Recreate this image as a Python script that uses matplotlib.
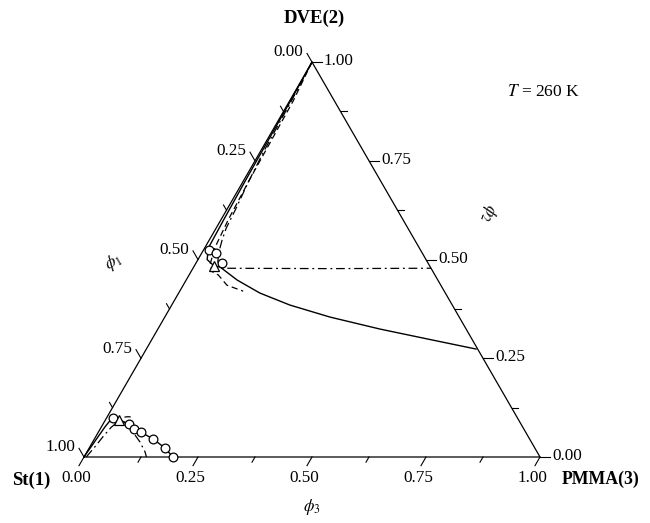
import numpy as np
import matplotlib
matplotlib.use("Agg")
import matplotlib.pyplot as plt

plt.rcParams['font.family'] = ['Liberation Serif', 'DejaVu Serif']
plt.rcParams['mathtext.fontset'] = 'stix'

# compositions: phi2 = DVE(2), phi3 = PMMA(3), phi1 = 1 - phi2 - phi3
top_solid_phi2 = [1.0, 0.9, 0.8, 0.7, 0.6, 0.53, 0.5, 0.484, 0.481, 0.448, 0.4152, 0.3848, 0.3544, 0.324, 0.2975, 0.2734]
top_solid_phi3 = [0.0, 0.002, 0.003, 0.004, 0.006, 0.008, 0.02, 0.043, 0.058, 0.112, 0.178, 0.259, 0.362, 0.487, 0.610, 0.723]

top_dashdot_phi2 = [1.0, 0.9, 0.78, 0.7, 0.625, 0.58, 0.55, 0.52, 0.495, 0.478, 0.477, 0.478]
top_dashdot_phi3 = [0.0, 0.004, 0.007, 0.012, 0.019, 0.022, 0.028, 0.036, 0.046, 0.06, 0.3, 0.522]

top_dashed_phi2 = [1.0, 0.9, 0.8, 0.7, 0.6, 0.53, 0.49, 0.47, 0.461, 0.435, 0.42]
top_dashed_phi3 = [0.0, 0.008, 0.01, 0.012, 0.016, 0.022, 0.032, 0.045, 0.064, 0.096, 0.139]

bot_solid_phi2 = [0.0, 0.04, 0.077, 0.092, 0.099, 0.099, 0.094, 0.0835, 0.071, 0.063, 0.0456, 0.0228, 0.0]
bot_solid_phi3 = [0.0, 0.004, 0.008, 0.011, 0.014, 0.022, 0.030, 0.057, 0.074, 0.093, 0.129, 0.166, 0.195]

bot_dashdot_phi2 = [0.0, 0.03, 0.052, 0.075, 0.094, 0.08, 0.0557, 0.0387, 0.0134, 0.0]
bot_dashdot_phi3 = [0.005, 0.012, 0.016, 0.022, 0.032, 0.06, 0.084, 0.103, 0.127, 0.137]

bot_dashed_phi2 = [0.095, 0.1, 0.102, 0.101]
bot_dashed_phi3 = [0.02, 0.032, 0.045, 0.06]

exp_phi2 = [0.524, 0.516, 0.490, 0.099, 0.0835, 0.071, 0.063, 0.0456, 0.0228, 0.0]
exp_phi3 = [0.012, 0.031, 0.057, 0.014, 0.057, 0.074, 0.093, 0.129, 0.166, 0.195]

crit_phi2 = [0.484, 0.094]
crit_phi3 = [0.043, 0.030]

major = [0.0, 0.25, 0.5, 0.75, 1.0]
major_labels = ['0.00', '0.25', '0.50', '0.75', '1.00']
minor = [0.125, 0.375, 0.625, 0.875]


def to_xy(phi2, phi3):
    phi2 = np.asarray(phi2, dtype=float)
    phi3 = np.asarray(phi3, dtype=float)
    return phi3 + 0.5 * phi2, phi2 * np.sqrt(3) / 2


def main():
    fig = plt.figure(figsize=(6.5, 5.23), dpi=100)
    ax = fig.add_axes([0, 0, 1, 1])
    px = 1 / 456.0
    ax.set_xlim(-84 * px, 566 * px)
    ax.set_ylim(-66 * px, 457 * px)
    ax.set_aspect('equal')
    ax.axis('off')

    # frame
    fx, fy = to_xy([0, 1, 0, 0], [0, 0, 1, 0])
    ax.plot(fx, fy, color='black', lw=0.9)

    s3 = np.sqrt(3) / 2
    axes_def = [
        # name, point function, tick direction
        ('bottom', lambda v: to_xy(0, v), (-0.5, -s3)),
        ('left', lambda v: to_xy(1 - v, 0), (-0.5, s3)),
        ('right', lambda v: to_xy(v, 1 - v), (1.0, 0.0)),
    ]
    for name, pt, d in axes_def:
        for v in minor:
            x0, y0 = pt(v)
            ax.plot([x0, x0 + 6 * px * d[0]], [y0, y0 + 6 * px * d[1]], color='black', lw=0.8)
        for v, lab in zip(major, major_labels):
            x0, y0 = pt(v)
            x1, y1 = x0 + 10 * px * d[0], y0 + 10 * px * d[1]
            ax.plot([x0, x1], [y0, y1], color='black', lw=0.8)
            if name == 'bottom':
                ax.text(x1 - 3 * px, y1 - 12 * px, lab, ha='center', va='center', fontsize=12.3)
            elif name == 'left':
                ax.text(x1 - 4 * px, y1 + 1 * px, lab, ha='right', va='center', fontsize=12.3)
            else:
                ax.text(x1 + 2 * px, y1 + 1 * px, lab, ha='left', va='center', fontsize=12.3)

    # curves
    ax.plot(*to_xy(top_solid_phi2, top_solid_phi3), color='black', lw=1.0)
    ax.plot(*to_xy(top_dashdot_phi2, top_dashdot_phi3), color='black', lw=0.9, dashes=(7, 3, 1.5, 3))
    ax.plot(*to_xy(top_dashed_phi2, top_dashed_phi3), color='black', lw=0.9, dashes=(5, 3))
    ax.plot(*to_xy(bot_solid_phi2, bot_solid_phi3), color='black', lw=1.0)
    ax.plot(*to_xy(bot_dashdot_phi2, bot_dashdot_phi3), color='black', lw=0.9, dashes=(7, 3, 1.5, 3))
    ax.plot(*to_xy(bot_dashed_phi2, bot_dashed_phi3), color='black', lw=0.9, dashes=(5, 3))

    ax.plot(*to_xy(exp_phi2, exp_phi3), 'o', ms=6.3, mfc='white', mec='black', mew=0.9, ls='none')
    ax.plot(*to_xy(crit_phi2, crit_phi3), '^', ms=7, mfc='white', mec='black', mew=0.9, ls='none')

    # labels
    def at(xp, yp):
        return (xp - 84) * px, (457 - yp) * px

    ax.text(*at(314, 18), 'DVE(2)', ha='center', va='center', fontsize=13.5, fontweight='bold')
    ax.text(*at(31, 480), 'St(1)', ha='center', va='center', fontsize=13.5, fontweight='bold')
    ax.text(*at(601, 479), 'PMMA(3)', ha='center', va='center', fontsize=12.8, fontweight='bold')
    ax.text(*at(543, 92), r'$T$ = 260 K', ha='center', va='center', fontsize=12.5)
    ax.text(*at(312, 507), r'$\phi_3$', ha='center', va='center', fontsize=12)
    ax.text(*at(113, 262), r'$\phi_1$', ha='center', va='center', fontsize=12, rotation=30)
    ax.text(*at(488, 213), r'$\phi_2$', ha='center', va='center', fontsize=12, rotation=-110)

    fig.savefig('out.png', dpi=100)


if __name__ == '__main__':
    main()
